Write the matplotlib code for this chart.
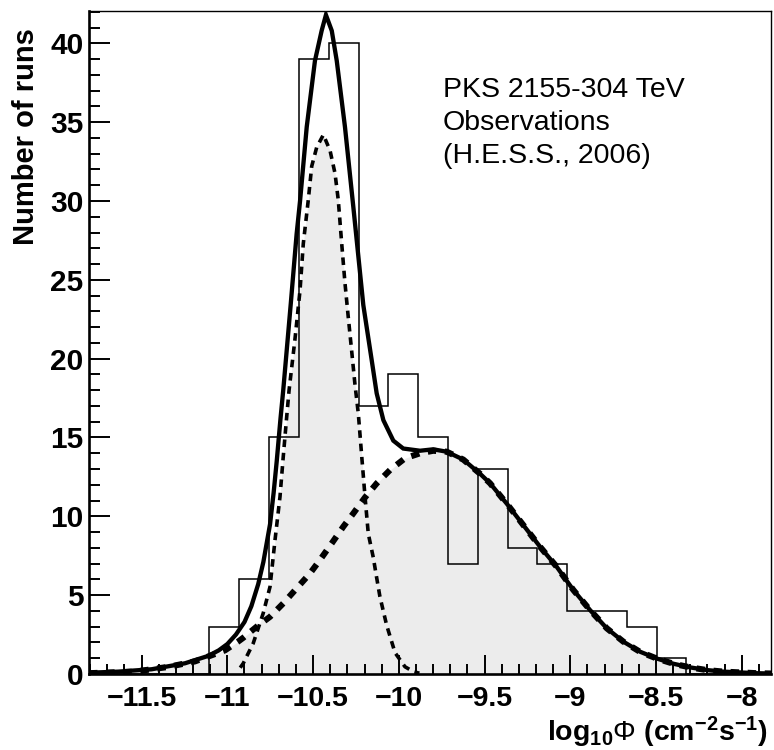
import numpy as np
import matplotlib
matplotlib.use("Agg")
import matplotlib.pyplot as plt
from matplotlib.ticker import MultipleLocator, FuncFormatter

plt.rcParams['font.family'] = ['Liberation Sans', 'DejaVu Sans']
plt.rcParams['mathtext.fontset'] = 'custom'
plt.rcParams['mathtext.rm'] = 'Liberation Sans'
plt.rcParams['mathtext.bf'] = 'Liberation Sans:bold'
plt.rcParams['mathtext.it'] = 'Liberation Sans:italic'

# histogram of runs (23 bins from -11.8)
bin_lo = -11.8
bin_width = 0.1739
counts = [0, 0, 0, 0, 3, 6, 15, 39, 40, 17, 19, 15, 7, 13, 8, 7, 4, 4, 3, 1, 0, 0, 0]

# total fit (solid)
x_total = [-11.807, -11.637, -11.442, -11.247, -11.111, -11.050, -11.000, -10.950,
           -10.900, -10.860, -10.820, -10.790, -10.751, -10.730, -10.712, -10.690,
           -10.674, -10.630, -10.596, -10.576, -10.537, -10.489, -10.450, -10.425,
           -10.391, -10.362, -10.314, -10.265, -10.236, -10.207, -10.158, -10.129,
           -10.090, -10.032, -9.974, -9.876, -9.799, -9.721, -9.624, -9.526, -9.468,
           -9.370, -9.274, -9.176, -9.079, -8.982, -8.885, -8.787, -8.690, -8.592,
           -8.495, -8.398, -8.301, -8.204, -8.107, -7.912, -7.829]
y_total = [0.08, 0.15, 0.3, 0.68, 1.15, 1.5, 1.9, 2.5,
           3.3, 4.3, 5.7, 7.1, 9.5, 11.5, 13.5, 16.2,
           18.0, 23.5, 27.9, 30.0, 34.7, 38.9, 40.8, 41.8,
           40.8, 38.9, 34.7, 29.6, 26.5, 23.4, 19.9, 17.8,
           16.1, 14.8, 14.3, 14.16, 14.25, 14.1, 13.6, 12.7, 12.1,
           10.8, 9.45, 8.07, 6.8, 5.33, 4.06, 2.9, 2.05, 1.41,
           0.98, 0.65, 0.42, 0.25, 0.15, 0.05, 0.03]

# broad (lognormal) component, thick dashes
x_broad = [-11.807, -11.539, -11.345, -11.189, -11.014, -10.938, -10.907, -10.829,
           -10.751, -10.674, -10.596, -10.518, -10.460, -10.391, -10.324, -10.265,
           -10.197, -10.129, -10.051, -9.964, -9.876, -9.799, -9.721, -9.624,
           -9.526, -9.468, -9.370, -9.274, -9.176, -9.079, -8.982, -8.885, -8.787,
           -8.690, -8.592, -8.495, -8.398, -8.301, -8.204, -8.107, -7.912, -7.829]
y_broad = [0.05, 0.15, 0.45, 0.8, 1.5, 2.05, 2.3, 3.0,
           3.63, 4.48, 5.43, 6.38, 7.23, 8.29, 9.34, 10.19,
           11.2, 12.09, 12.94, 13.68, 14.0, 14.16, 14.1, 13.6,
           12.7, 12.1, 10.8, 9.45, 8.07, 6.8, 5.33, 4.06, 2.9,
           2.05, 1.4, 0.98, 0.65, 0.42, 0.25, 0.15, 0.05, 0.03]

# narrow (low state) component, thin dashes
x_narrow = [-10.925, -10.907, -10.849, -10.791, -10.751, -10.722, -10.693, -10.674,
            -10.654, -10.640, -10.606, -10.576, -10.557, -10.528, -10.508, -10.479,
            -10.440, -10.401, -10.372, -10.353, -10.333, -10.314, -10.295, -10.275,
            -10.256, -10.236, -10.216, -10.197, -10.178, -10.149, -10.129, -10.110,
            -10.071, -10.022, -9.964, -9.915, -9.880]
y_narrow = [0.4, 0.68, 1.95, 3.85, 5.54, 8.5, 11.24, 13.78,
            16.3, 18.0, 21.2, 24.35, 27.3, 30.06, 32.2, 33.4,
            34.2, 33.2, 31.75, 30.06, 27.3, 24.8, 22.66, 20.5,
            18.4, 16.5, 13.78, 11.24, 8.9, 7.4, 6.1, 4.9,
            3.1, 1.35, 0.46, 0.15, 0.05]

x_ticks = [-11.5, -11, -10.5, -10, -9.5, -9, -8.5, -8]
y_ticks = [0, 5, 10, 15, 20, 25, 30, 35, 40]

fig = plt.figure(figsize=(7.74, 7.5), dpi=100)
ax = fig.add_axes([89 / 774, 1 - 674 / 750, (771 - 89) / 774, (674 - 11) / 750])

fill_col = '#ececec'
ax.fill_between(x_narrow, y_narrow, 0, color=fill_col, lw=0, zorder=1)
ax.fill_between(x_broad, y_broad, 0, color=fill_col, lw=0, zorder=1)

edges = bin_lo + bin_width * np.arange(len(counts) + 1)
ax.stairs(counts, edges, color='black', lw=1.1, zorder=2)

ax.plot(x_narrow, y_narrow, color='black', lw=2.6, dashes=(2.1, 1.6), zorder=3)
ax.plot(x_broad, y_broad, color='black', lw=4.4, dashes=(1.4, 1.4), zorder=3)
ax.plot(x_total, y_total, color='black', lw=3.1, zorder=4, solid_joinstyle='miter')

ax.set_xlim(-11.807, -7.829)
ax.set_ylim(0, 42.05)

ax.set_xticks(x_ticks)
ax.set_yticks(y_ticks)
ax.xaxis.set_minor_locator(MultipleLocator(0.1))
ax.yaxis.set_minor_locator(MultipleLocator(1))
ax.xaxis.set_major_formatter(FuncFormatter(lambda v, p: ('%g' % v).replace('-', '\u2212')))

ax.tick_params(which='both', direction='in', top=False, right=False, width=1.4, color='black')
ax.tick_params(axis='x', which='major', length=13.5, pad=9)
ax.tick_params(axis='x', which='minor', length=7)
ax.tick_params(axis='y', which='major', length=15, pad=4)
ax.tick_params(axis='y', which='minor', length=8)
for lab in ax.get_xticklabels():
    lab.set_fontsize(20.5)
    lab.set_fontweight('bold')
for lab in ax.get_yticklabels():
    lab.set_fontsize(21.5)
    lab.set_fontweight('bold')

ax.spines['left'].set_linewidth(1.9)
ax.spines['bottom'].set_linewidth(1.9)
ax.spines['top'].set_linewidth(1.0)
ax.spines['right'].set_linewidth(1.0)

fig.text(26 / 774, 1 - 28 / 750, 'Number of runs', rotation=90, ha='center', va='top',
         fontsize=21, fontweight='bold')
fig.text(768 / 774, 1 - 741 / 750,
         r'$\mathbf{log}_{\mathbf{10}}\mathrm{\Phi}\ \mathbf{(cm^{-2}s^{-1})}$',
         ha='right', va='baseline', fontsize=20.5)

notes = ['PKS 2155-304 TeV', 'Observations', '(H.E.S.S., 2006)']
for i, line in enumerate(notes):
    fig.text(443 / 774, 1 - (97 + 33 * i) / 750, line, ha='left', va='baseline', fontsize=20.5)

fig.savefig('out.png', dpi=100)
